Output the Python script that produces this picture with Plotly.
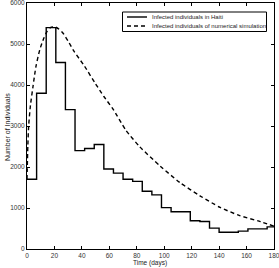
import plotly.graph_objects as go

# Weekly observed infected individuals in Haiti (step data)
week_start_days = [0, 7, 14, 21, 28, 35, 42, 49, 56, 63, 70, 77, 84, 91, 98, 105,
                   112, 119, 126, 133, 140, 147, 154, 161, 168, 175, 180]
haiti_infected = [1700, 3800, 5400, 4550, 3400, 2400, 2450, 2550, 1950, 1850, 1700,
                  1650, 1410, 1320, 1010, 910, 910, 690, 670, 510, 410, 410, 435,
                  490, 490, 540, 540]

# Numerical simulation
sim_days = [0, 0.6, 1.2, 2.5, 4.4, 6.5, 9.3, 12, 14.5, 17, 20, 23, 26.3, 30, 33.6, 42,
            49.5, 56, 62.8, 72, 82, 97, 111.5, 126, 140.7, 155, 170, 180]
sim_infected = [1700, 2500, 3000, 3500, 3970, 4450, 4860, 5120, 5300, 5400, 5420, 5370,
                5261, 5070, 4857, 4454, 4053, 3720, 3407, 2900, 2500, 2023, 1619,
                1298, 1015, 814, 669, 556]

x_ticks = [0, 20, 40, 60, 80, 100, 120, 140, 160, 180]
y_ticks = [0, 1000, 2000, 3000, 4000, 5000, 6000]

legend_labels = ["Infected individuals in Haiti",
                 "Infected individuals of numerical simulation"]

W, H = 279, 268
ML, MR, MT, MB = 27, 5, 3, 19
PW, PH = W - ML - MR, H - MT - MB


def px(xp):
    return (xp - ML) / PW


def py(yp):
    return (H - MB - yp) / PH


fig = go.Figure()
fig.add_trace(go.Scatter(
    x=week_start_days, y=haiti_infected, mode="lines",
    line=dict(color="black", width=1.4, shape="hv"),
    name=legend_labels[0], showlegend=False, hoverinfo="skip"))
fig.add_trace(go.Scatter(
    x=sim_days, y=sim_infected, mode="lines",
    line=dict(color="black", width=1.4, dash="4px,3px", shape="spline", smoothing=0.6),
    name=legend_labels[1], showlegend=False, hoverinfo="skip"))

axis_common = dict(
    showline=True, linecolor="black", linewidth=1, mirror="ticks",
    ticks="inside", ticklen=3, tickcolor="black", showgrid=False, zeroline=False,
    automargin=False, ticklabeloverflow="allow",
    tickfont=dict(size=6.5, color="#333333", family="Liberation Sans"),
)

shapes = [
    dict(type="rect", xref="paper", yref="paper",
         x0=px(122.5), x1=px(266.5), y0=py(31.5), y1=py(12),
         line=dict(color="black", width=1), fillcolor="white", layer="above"),
    dict(type="line", xref="paper", yref="paper",
         x0=px(127), x1=px(147), y0=py(17), y1=py(17),
         line=dict(color="black", width=1.4), layer="above"),
    dict(type="line", xref="paper", yref="paper",
         x0=px(127), x1=px(147), y0=py(26), y1=py(26),
         line=dict(color="black", width=1.4, dash="4px,3px"), layer="above"),
]

annotations = [
    dict(text=legend_labels[0], xref="paper", yref="paper", x=px(150), y=py(17),
         xanchor="left", yanchor="middle", showarrow=False,
         font=dict(size=6, color="#222222")),
    dict(text=legend_labels[1], xref="paper", yref="paper", x=px(150), y=py(26),
         xanchor="left", yanchor="middle", showarrow=False,
         font=dict(size=6, color="#222222")),
    dict(text="Time (days)", xref="paper", yref="paper", x=px(150), y=py(268.5),
         xanchor="center", yanchor="bottom", showarrow=False,
         font=dict(size=6.5, color="#222222")),
    dict(text="Number of Individuals", xref="paper", yref="paper", x=px(7), y=py(127),
         xanchor="center", yanchor="middle", showarrow=False, textangle=-90,
         font=dict(size=7, color="#222222")),
]

fig.update_layout(
    width=W, height=H,
    margin=dict(l=ML, r=MR, t=MT, b=MB, autoexpand=False),
    paper_bgcolor="white", plot_bgcolor="white",
    font=dict(family="Liberation Sans", size=7, color="#222222"),
    showlegend=False, hovermode=False,
    xaxis=dict(range=[0, 180], tickvals=x_ticks, **axis_common),
    yaxis=dict(range=[0, 6000], tickvals=y_ticks, **axis_common),
    shapes=shapes,
    annotations=annotations,
)

fig.write_html(
    "out.html",
    config={"displayModeBar": False, "staticPlot": True},
    post_script="document.body.style.margin='0';document.body.style.padding='0';"
                "document.documentElement.style.overflow='hidden';",
)
